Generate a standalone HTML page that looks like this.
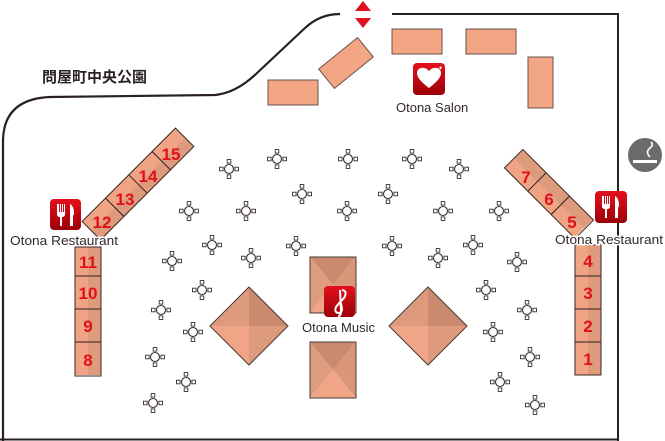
<!DOCTYPE html>
<html><head><meta charset="utf-8"><style>
html,body{margin:0;padding:0;background:#fff;width:665px;height:441px;overflow:hidden}
svg{display:block}
text{font-family:"Liberation Sans","Noto Sans CJK JP",sans-serif}
</style></head><body>
<svg width="665" height="441" viewBox="0 0 665 441" xmlns="http://www.w3.org/2000/svg">
<defs>
<g id="c">
<circle cx="0" cy="0" r="4.5" fill="#fff" stroke="#3a3030" stroke-width="1.1"/>
<rect x="-9.5" y="-1.8" width="3.6" height="3.6" fill="#fff" stroke="#3a3030" stroke-width="0.9"/>
<rect x="5.9" y="-1.8" width="3.6" height="3.6" fill="#fff" stroke="#3a3030" stroke-width="0.9"/>
<rect x="-1.8" y="-9.5" width="3.6" height="3.6" fill="#fff" stroke="#3a3030" stroke-width="0.9"/>
<rect x="-1.8" y="5.9" width="3.6" height="3.6" fill="#fff" stroke="#3a3030" stroke-width="0.9"/>
</g>
<linearGradient id="rg" x1="0" y1="0" x2="0" y2="1"><stop offset="0" stop-color="#e4101c"/><stop offset="1" stop-color="#9c0008"/></linearGradient>
<g id="cell">
<rect x="0" y="0" width="13" height="33" fill="#f0a484"/>
<rect x="13" y="0" width="13" height="33" fill="#de9a7c"/>
</g>
</defs>

<path d="M3,441 L3,140 Q4,99 50,97 L215,95 Q236,93 256,74 L305,28 Q320,14 340,14" fill="none" stroke="#2a2020" stroke-width="2.2"/>
<path d="M392,14 L618,14 L618,441" fill="none" stroke="#2a2020" stroke-width="2"/>
<line x1="0" y1="439.5" x2="618" y2="439.5" stroke="#2a2020" stroke-width="2"/>

<polygon points="363,1 371,11 355,11" fill="#e0101c"/>
<polygon points="355,18 371,18 363,28" fill="#e0101c"/>

<text x="42" y="82" font-size="15" font-weight="bold" fill="#2a2222">問屋町中央公園</text>

<g fill="#f2a684" stroke="#6a5048" stroke-width="1">
<rect x="268" y="80" width="50" height="25"/>
<rect x="392" y="29" width="50" height="25"/>
<rect x="466" y="29" width="50" height="25"/>
<rect x="528" y="57" width="25" height="51"/>
<rect x="321" y="50.5" width="50" height="25" transform="rotate(-39 346 63)"/>
</g>

<rect x="413" y="63" width="32" height="32" rx="4" fill="url(#rg)"/>
<path d="M429,88 C420,81 417,77 417,73 C417,69 421,67 424,68 C426,68 428,70 429,71 C430,70 432,68 434,68 C437,67 441,69 441,73 C441,77 438,81 429,88Z" fill="#fff"/>
<text x="438" y="70" font-size="6" fill="#fff">✦</text>
<text x="396" y="112" font-size="13" fill="#332a2a">Otona Salon</text>

<circle cx="645" cy="155" r="17" fill="#6b6b6b"/>
<rect x="633" y="160" width="24" height="3" fill="#fff"/>
<path d="M650,157 Q645,152 650,148 Q654,145 651,142" fill="none" stroke="#fff" stroke-width="1.6"/>

<g transform="translate(138,184) rotate(45)">
<g transform="translate(-13,-66)">
<use href="#cell" y="0"/><use href="#cell" y="33"/><use href="#cell" y="66"/><use href="#cell" y="99"/>
<rect x="0" y="0" width="26" height="132" fill="none" stroke="#3a2a22" stroke-width="1"/>
<line x1="0" y1="33" x2="26" y2="33" stroke="#2a2020"/><line x1="0" y1="66" x2="26" y2="66" stroke="#2a2020"/><line x1="0" y1="99" x2="26" y2="99" stroke="#2a2020"/>
</g>
</g>
<g font-size="17" font-weight="bold" fill="#e0101c" text-anchor="middle">
<text x="171" y="160">15</text><text x="148" y="182">14</text><text x="125" y="205">13</text><text x="102" y="228">12</text>
</g>

<g transform="translate(549,194) rotate(-45)">
<g transform="translate(-13,-50)">
<use href="#cell" y="0"/><use href="#cell" y="33"/><use href="#cell" y="66"/>
<rect x="0" y="0" width="26" height="100" fill="none" stroke="#3a2a22" stroke-width="1"/>
<line x1="0" y1="33" x2="26" y2="33" stroke="#2a2020"/><line x1="0" y1="66" x2="26" y2="66" stroke="#2a2020"/>
</g>
</g>
<g font-size="17" font-weight="bold" fill="#e0101c" text-anchor="middle">
<text x="526" y="183">7</text><text x="549" y="205">6</text><text x="572" y="228">5</text>
</g>

<g>
<use href="#cell" x="75" y="247"/><use href="#cell" x="75" y="276"/><use href="#cell" x="75" y="309"/><use href="#cell" x="75" y="342"/>
<rect x="75" y="247" width="26" height="129" fill="none" stroke="#3a2a22"/>
<line x1="75" y1="276" x2="101" y2="276" stroke="#2a2020"/><line x1="75" y1="309" x2="101" y2="309" stroke="#2a2020"/><line x1="75" y1="342" x2="101" y2="342" stroke="#2a2020"/>
</g>
<g font-size="17" font-weight="bold" fill="#e0101c" text-anchor="middle">
<text x="88" y="268">11</text><text x="88" y="299">10</text><text x="88" y="332">9</text><text x="88" y="366">8</text>
</g>

<g>
<use href="#cell" x="575" y="245"/><use href="#cell" x="575" y="276"/><use href="#cell" x="575" y="309"/><use href="#cell" x="575" y="342"/>
<rect x="575" y="245" width="26" height="130" fill="none" stroke="#3a2a22"/>
<line x1="575" y1="276" x2="601" y2="276" stroke="#2a2020"/><line x1="575" y1="309" x2="601" y2="309" stroke="#2a2020"/><line x1="575" y1="342" x2="601" y2="342" stroke="#2a2020"/>
</g>
<g font-size="17" font-weight="bold" fill="#e0101c" text-anchor="middle">
<text x="588" y="267">4</text><text x="588" y="299">3</text><text x="588" y="332">2</text><text x="588" y="365">1</text>
</g>

<g>
<rect x="50" y="199" width="31" height="31" rx="4" fill="url(#rg)"/>
<path d="M57,204 v10 q0,3 3,3 v9 h2 v-9 q3,0 3,-3 v-10 h-1 v8 h-1 v-8 h-1 v8 h-1 v-8 h-1 v8 h-1 v-8z" fill="#fff"/>
<path d="M70,204 q4,2 4,10 l-1,2 v10 h-3z" fill="#fff"/>
</g>
<text x="10" y="245" font-size="13" textLength="108" lengthAdjust="spacingAndGlyphs" fill="#332a2a" stroke="#fff" stroke-width="3" paint-order="stroke">Otona Restaurant</text>
<g>
<rect x="595" y="191" width="32" height="32" rx="4" fill="url(#rg)"/>
<path d="M602,196 v10 q0,3 3,3 v9 h2 v-9 q3,0 3,-3 v-10 h-1 v8 h-1 v-8 h-1 v8 h-1 v-8 h-1 v8 h-1 v-8z" fill="#fff"/>
<path d="M615,196 q4,2 4,10 l-1,2 v10 h-3z" fill="#fff"/>
</g>
<text x="555" y="244" font-size="13" textLength="108" lengthAdjust="spacingAndGlyphs" fill="#332a2a" stroke="#fff" stroke-width="3" paint-order="stroke">Otona Restaurant</text>

<g stroke="#4a3a34" stroke-width="1">
<g>
<polygon points="310,257 356,257 333,285" fill="#c98a70" stroke="none"/>
<polygon points="356,257 356,313 333,285" fill="#da9678" stroke="none"/>
<polygon points="310,313 356,313 333,285" fill="#f0a686" stroke="none"/>
<polygon points="310,257 310,313 333,285" fill="#e09c7e" stroke="none"/>
<rect x="310" y="257" width="46" height="56" fill="none"/>
</g>
<g>
<polygon points="310,342 356,342 333,370" fill="#c98a70" stroke="none"/>
<polygon points="356,342 356,398 333,370" fill="#da9678" stroke="none"/>
<polygon points="310,398 356,398 333,370" fill="#f0a686" stroke="none"/>
<polygon points="310,342 310,398 333,370" fill="#e09c7e" stroke="none"/>
<rect x="310" y="342" width="46" height="56" fill="none"/>
</g>
<g>
<polygon points="249,287 288,326 249,326" fill="#c98a70" stroke="none"/>
<polygon points="249,287 210,326 249,326" fill="#de9a7c" stroke="none"/>
<polygon points="210,326 249,365 249,326" fill="#f0a686" stroke="none"/>
<polygon points="288,326 249,365 249,326" fill="#de9a7c" stroke="none"/>
<polygon points="249,287 288,326 249,365 210,326" fill="none"/>
</g>
<g>
<polygon points="428,287 467,326 428,326" fill="#c98a70" stroke="none"/>
<polygon points="428,287 389,326 428,326" fill="#de9a7c" stroke="none"/>
<polygon points="389,326 428,365 428,326" fill="#f0a686" stroke="none"/>
<polygon points="467,326 428,365 428,326" fill="#de9a7c" stroke="none"/>
<polygon points="428,287 467,326 428,365 389,326" fill="none"/>
</g>
</g>
<rect x="324" y="286" width="31" height="31" rx="4" fill="url(#rg)"/>
<path d="M342,290 q6,1 2,8 q-5,5 -8,9 q-2,5 2,6 q4,0 4,-4 l-1,-6 M340,290 l1,22 q0,4 -3,4" fill="none" stroke="#fff" stroke-width="2"/>
<text x="302" y="332" font-size="13" fill="#332a2a" stroke="#fff" stroke-width="3" paint-order="stroke">Otona Music</text>

<g>
<use href="#c" x="229" y="169"/><use href="#c" x="277" y="159"/><use href="#c" x="348" y="159"/><use href="#c" x="412" y="159"/><use href="#c" x="459" y="169"/>
<use href="#c" x="302" y="194"/><use href="#c" x="388" y="194"/>
<use href="#c" x="189" y="211"/><use href="#c" x="246" y="211"/><use href="#c" x="347" y="211"/><use href="#c" x="443" y="211"/><use href="#c" x="499" y="211"/>
<use href="#c" x="212" y="245"/><use href="#c" x="296" y="246"/><use href="#c" x="392" y="246"/><use href="#c" x="473" y="245"/>
<use href="#c" x="172" y="261"/><use href="#c" x="251" y="258"/><use href="#c" x="438" y="258"/><use href="#c" x="517" y="262"/>
<use href="#c" x="202" y="290"/><use href="#c" x="486" y="290"/>
<use href="#c" x="161" y="310"/><use href="#c" x="527" y="310"/>
<use href="#c" x="193" y="332"/><use href="#c" x="493" y="332"/>
<use href="#c" x="155" y="357"/><use href="#c" x="530" y="357"/>
<use href="#c" x="186" y="382"/><use href="#c" x="500" y="382"/>
<use href="#c" x="153" y="403"/><use href="#c" x="535" y="405"/>
</g>
</svg>
</body></html>
